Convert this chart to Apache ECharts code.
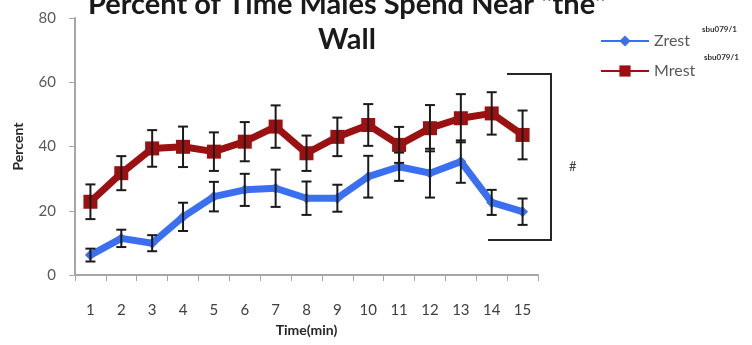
<!DOCTYPE html>
<html><head><meta charset="utf-8">
<script src="https://cdn.jsdelivr.net/npm/echarts@6/dist/echarts.min.js"></script>
<style>html,body{margin:0;padding:0;background:#fff}#c{width:752px;height:345px}</style>
</head><body><div id="c"></div>
<script>
const categories = ['1','2','3','4','5','6','7','8','9','10','11','12','13','14','15'];
const zrest = [6.2,11.4,9.9,18.1,24.4,26.5,27.0,23.9,23.9,30.6,33.7,31.7,35.3,22.6,19.7];
const zrestErr = [2,2.7,2.5,4.4,4.6,5,5.8,5.2,4.2,6.5,4.4,7.6,6.6,3.9,4.1];
const mrest = [22.8,31.7,39.4,39.9,38.4,41.5,46.2,37.9,43.0,46.7,40.5,45.7,48.8,50.3,43.6];
const mrestErr = [5.4,5.3,5.7,6.3,6,6.1,6.6,5.5,6,6.5,5.6,7.2,7.5,6.6,7.6];
const yTicks = {min:0, max:80, interval:20};
const titleText = 'Percent of Time Males Spend Near "the"\nWall';
const superscript = 'sbu079/1';

const font = 'Lato, "Open Sans", sans-serif';
function errData(vals, errs){ return vals.map((v,i)=>[i, v-errs[i], v+errs[i]]); }
function errRender(params, api){
  const x = api.value(0);
  const lo = api.coord([x, api.value(1)]);
  const hi = api.coord([x, api.value(2)]);
  const w = 5;
  const st = {stroke:'#1a1a1a', lineWidth:2};
  return {type:'group', children:[
    {type:'line', shape:{x1:hi[0],y1:hi[1],x2:lo[0],y2:lo[1]}, style:st},
    {type:'line', shape:{x1:hi[0]-w,y1:hi[1],x2:hi[0]+w,y2:hi[1]}, style:st},
    {type:'line', shape:{x1:lo[0]-w,y1:lo[1],x2:lo[0]+w,y2:lo[1]}, style:st}
  ]};
}
const chart = echarts.init(document.getElementById('c'), null, {renderer:'canvas'});
chart.setOption({
  animation:false,
  backgroundColor:'#fff',
  title:{text:titleText, left:347, textAlign:'center', top:-13, padding:0,
    textStyle:{fontFamily:font, fontWeight:'bold', fontSize:29, lineHeight:35, color:'#1a1a1a'}},
  legend:{orient:'vertical', left:595, top:28, itemWidth:48, itemHeight:14, itemGap:14,
    textStyle:{fontFamily:font, fontSize:16, color:'#595959'},
    data:['Zrest','Mrest']},
  grid:{left:75, right:214, top:18, bottom:70},
  xAxis:{type:'category', data:categories, boundaryGap:true,
    name:'Time(min)', nameLocation:'middle', nameGap:48,
    nameTextStyle:{fontFamily:font, fontWeight:'bold', fontSize:14, color:'#262626'},
    axisLine:{lineStyle:{color:'#a6a6a6', width:2}},
    axisTick:{show:true, length:6, lineStyle:{color:'#a6a6a6'}},
    axisLabel:{fontFamily:font, fontSize:15, color:'#404040', margin:28},
    splitLine:{show:false}},
  yAxis:{type:'value', min:yTicks.min, max:yTicks.max, interval:yTicks.interval,
    name:'Percent', nameLocation:'middle', nameGap:50,
    nameTextStyle:{fontFamily:font, fontWeight:'bold', fontSize:14, color:'#262626'},
    axisLine:{show:true, lineStyle:{color:'#a6a6a6', width:2}},
    axisTick:{show:true, length:6, lineStyle:{color:'#a6a6a6'}},
    axisLabel:{fontFamily:font, fontSize:15, color:'#595959', margin:19},
    splitLine:{show:false}},
  series:[
    {name:'Zrest', type:'line', data:zrest, color:'#3b6ff2', symbol:'diamond', symbolSize:11,
      lineStyle:{width:7, color:'#3b6ff2'}, itemStyle:{color:'#3b6ff2'}, z:3},
    {name:'Mrest', type:'line', data:mrest, color:'#9b1010', symbol:'rect', symbolSize:14,
      lineStyle:{width:7, color:'#9b1010'}, itemStyle:{color:'#9b1010'}, z:3},
    {type:'custom', renderItem:errRender, data:errData(zrest,zrestErr), z:5, silent:true},
    {type:'custom', renderItem:errRender, data:errData(mrest,mrestErr), z:5, silent:true}
  ],
  graphic:[
    {type:'polyline', shape:{points:[[507,74],[551,74],[551,240],[488,240]]},
      style:{stroke:'#262626', lineWidth:2, fill:null}},
    {type:'text', left:569, top:160, style:{text:'#', fontFamily:font, fontSize:13, fill:'#404040'}},
    {type:'text', left:702, top:25, style:{text:superscript, fontFamily:font, fontSize:8, fontWeight:'bold', fill:'#333'}},
    {type:'text', left:704, top:53, style:{text:superscript, fontFamily:font, fontSize:8, fontWeight:'bold', fill:'#333'}}
  ]
});
</script></body></html>
